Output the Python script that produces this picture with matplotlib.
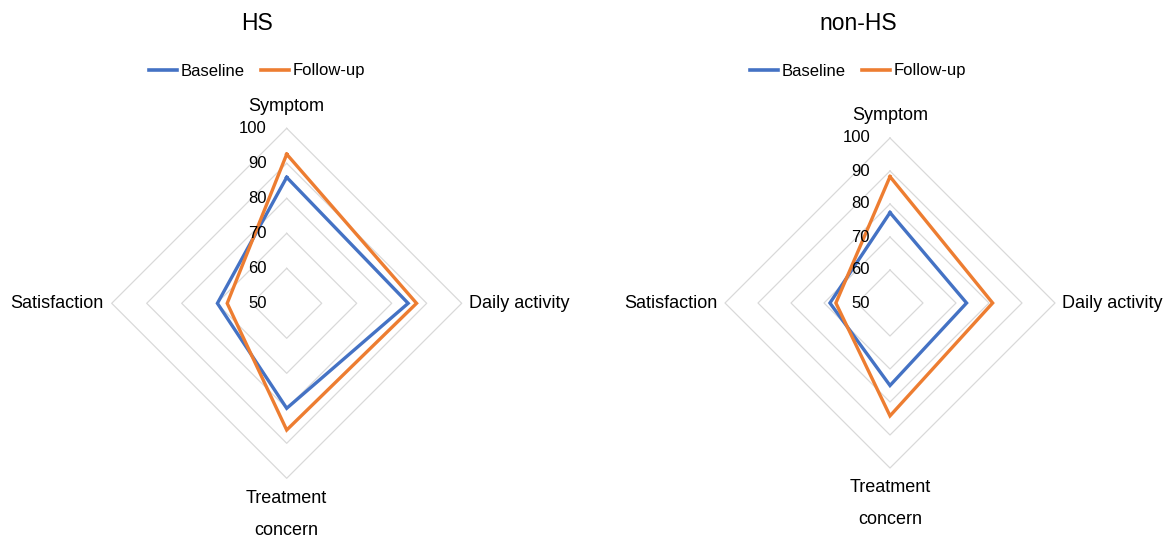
import numpy as np
import matplotlib
matplotlib.use("Agg")
import matplotlib.pyplot as plt
from matplotlib.lines import Line2D

plt.rcParams["font.family"] = ["Liberation Sans", "DejaVu Sans"]

categories = ["Symptom", "Daily activity", "Treatment\nconcern", "Satisfaction"]
series_names = ["Baseline", "Follow-up"]
hs_baseline = [86.0, 84.7, 80.0, 69.8]
hs_followup = [92.6, 87.1, 86.2, 67.0]
nonhs_baseline = [77.4, 73.2, 75.0, 68.2]
nonhs_followup = [88.3, 81.1, 84.2, 66.4]
tick_values = [50, 60, 70, 80, 90, 100]
panel_titles = ["HS", "non-HS"]

COLORS = ["#4472C4", "#ED7D31"]
GRID = "#D9D9D9"
W, H = 1169, 538
DPI = 100

fig = plt.figure(figsize=(W / DPI, H / DPI), dpi=DPI)

theta = np.arange(len(categories)) * 2 * np.pi / len(categories)
theta_closed = np.append(theta, theta[0])


def radar(cx, cy, radius, title_x, series, title):
    # cx, cy, radius in pixels (y measured from the top)
    ax = fig.add_axes([(cx - radius) / W, (H - cy - radius) / H,
                       2 * radius / W, 2 * radius / H], projection="polar")
    ax.set_theta_offset(np.pi / 2)
    ax.set_theta_direction(-1)
    ax.set_ylim(tick_values[0], tick_values[-1])
    ax.grid(False)
    ax.spines["polar"].set_visible(False)
    ax.set_xticks([])
    ax.set_yticks([])
    ax.patch.set_alpha(0)

    # diamond-shaped gridlines
    for level in tick_values[1:]:
        ax.plot(theta_closed, [level] * len(theta_closed), color=GRID,
                lw=0.9, zorder=1, clip_on=False)

    handles = []
    for vals, color, name in zip(series, COLORS, series_names):
        v = list(vals) + [vals[0]]
        ax.plot(theta_closed, v, color=color, lw=2.4, zorder=3,
                clip_on=False, solid_joinstyle="miter")
        handles.append(Line2D([], [], color=color, lw=2.6, label=name))

    # radial value labels along the Symptom axis
    for t in tick_values:
        ax.annotate(str(t), xy=(0, t), xytext=(-20, 0),
                    textcoords="offset pixels", ha="right", va="center",
                    fontsize=12, color="#000000", annotation_clip=False)

    # category labels
    top = tick_values[-1]
    fs = 13
    ax.annotate(categories[0], xy=(theta[0], top), xytext=(0, 22),
                textcoords="offset pixels", ha="center", va="center",
                fontsize=fs, annotation_clip=False)
    ax.annotate(categories[1], xy=(theta[1], top), xytext=(7, 0),
                textcoords="offset pixels", ha="left", va="center",
                fontsize=fs, annotation_clip=False)
    for i, line in enumerate(categories[2].split("\n")):
        ax.annotate(line, xy=(theta[2], top), xytext=(0, -20 - 32 * i),
                    textcoords="offset pixels", ha="center", va="center",
                    fontsize=fs, annotation_clip=False)
    ax.annotate(categories[3], xy=(theta[3], top), xytext=(-8, 0),
                textcoords="offset pixels", ha="right", va="center",
                fontsize=fs, annotation_clip=False)

    fig.text(title_x / W, 1 - 24 / H, title, ha="center", va="center",
             fontsize=16.5)
    fig.legend(handles=handles, loc="center", ncol=2,
               bbox_to_anchor=(title_x / W, 1 - 71 / H), frameon=False,
               fontsize=12, handlelength=1.7, handletextpad=0.2,
               columnspacing=1.0, borderaxespad=0, borderpad=0)


radar(286.7, 303.3, 175, 257, [hs_baseline, hs_followup], panel_titles[0])
radar(890, 303, 165, 858, [nonhs_baseline, nonhs_followup], panel_titles[1])

fig.savefig("out.png", dpi=DPI)
